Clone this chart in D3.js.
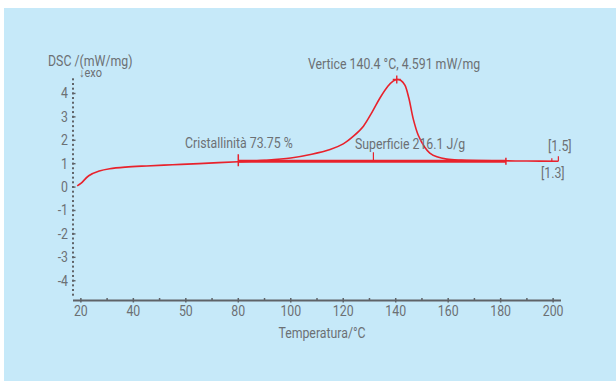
<!DOCTYPE html>
<html>
<head>
<meta charset="utf-8">
<script src="https://cdn.jsdelivr.net/npm/d3@7"></script>
<style>
  html, body { margin: 0; padding: 0; background: #fff; }
  svg text { font-family: Roboto, "Liberation Sans", sans-serif; fill: #6c7074; }
</style>
</head>
<body>
<svg id="chart" width="616" height="381"></svg>
<script>
// DSC curve (temperature °C, mW/mg)
const temps = [18.6, 20, 23, 27, 31, 37, 45, 55, 65, 80, 90, 100, 108, 115, 120, 124, 127.7, 131, 134, 137, 139, 140.4, 142, 143.5, 145, 146.7, 148.6, 151, 153, 155.7, 159.5, 165, 180, 190, 202];
const dsc = [0.05, 0.15, 0.48, 0.68, 0.78, 0.85, 0.9, 0.95, 1.0, 1.08, 1.14, 1.24, 1.4, 1.6, 1.84, 2.18, 2.6, 3.2, 3.8, 4.3, 4.52, 4.591, 4.55, 4.35, 3.8, 2.9, 2.21, 1.71, 1.45, 1.29, 1.19, 1.15, 1.12, 1.11, 1.1];

const xTicks = [20, 40, 60, 80, 100, 120, 140, 160, 180, 200];
const xTickLabels = ["20", "40", "50", "80", "100", "120", "140", "160", "180", "200"];
const yTicks = [-4, -3, -2, -1, 0, 1, 2, 3, 4];

const baseline = { from: 80, to: 182, v: 1.1 };
const peak = { t: 140.4, v: 4.591 };
const areaMark = 131.5;

const svg = d3.select("#chart");

// panel
svg.append("rect").attr("x", 4).attr("y", 8).attr("width", 612).attr("height", 373).attr("fill", "#c6e9f9");

const x = d3.scaleLinear().domain([17, 203]).range([73, 561]);
const y = d3.scaleLinear().domain([-4.75, 4.75]).range([298.2, 75.8]);

const red = "#e8222c";
const axisCol = "#5f6368";

// condensed-looking label helper
const label = (tx, ty, str, anchor = "start", size = 14) =>
  svg.append("text")
    .attr("transform", `translate(${tx},${ty}) scale(0.88,1)`)
    .attr("text-anchor", anchor)
    .attr("font-size", size)
    .text(str);

// y axis: dotted
const g = svg.append("g");
g.selectAll("rect.dot")
  .data(d3.range(-4.6, 4.7, 0.2))
  .enter()
  .append("rect")
  .attr("x", 72)
  .attr("y", (d) => y(d) - 1)
  .attr("width", 2)
  .attr("height", 2)
  .attr("fill", axisCol);
g.selectAll("rect.maj")
  .data(yTicks)
  .enter()
  .append("rect")
  .attr("x", 72)
  .attr("y", (d) => y(d) - 0.6)
  .attr("width", 3.5)
  .attr("height", 1.4)
  .attr("fill", axisCol);
yTicks.forEach((d) => label(68, y(d) + 5, d < 0 ? "-" + Math.abs(d) : String(d), "end"));

// x axis
g.append("line")
  .attr("x1", 73).attr("x2", 561)
  .attr("y1", 300.5).attr("y2", 300.5)
  .attr("stroke", axisCol).attr("stroke-width", 2);
g.selectAll("line.xt")
  .data(d3.range(20, 201, 10))
  .enter()
  .append("line")
  .attr("x1", (d) => x(d)).attr("x2", (d) => x(d))
  .attr("y1", 298).attr("y2", (d) => (d % 20 === 0 ? 302.5 : 300))
  .attr("stroke", axisCol).attr("stroke-width", 1.5);
xTicks.forEach((d, i) => label(x(d), 316, xTickLabels[i], "middle"));

label(322, 338, "Temperatura/°C", "middle");
label(48, 65.5, "DSC /(mW/mg)");
label(79, 77, "↓exo", "start", 12.5);

// curve
const line = d3.line().x((d) => x(d[0])).y((d) => y(d[1])).curve(d3.curveCatmullRom.alpha(0.5));
svg.append("path")
  .datum(temps.map((t, i) => [t, dsc[i]]))
  .attr("d", line)
  .attr("fill", "none")
  .attr("stroke", red)
  .attr("stroke-width", 1.6);

// baseline
svg.append("line")
  .attr("x1", x(baseline.from)).attr("x2", x(baseline.to))
  .attr("y1", y(baseline.v)).attr("y2", y(baseline.v))
  .attr("stroke", red).attr("stroke-width", 3);
svg.append("line")
  .attr("x1", x(baseline.from)).attr("x2", x(baseline.from))
  .attr("y1", y(baseline.v) - 7).attr("y2", y(baseline.v) + 5)
  .attr("stroke", red).attr("stroke-width", 1.5);
svg.append("line")
  .attr("x1", x(baseline.to)).attr("x2", x(baseline.to))
  .attr("y1", y(baseline.v) - 3.5).attr("y2", y(baseline.v) + 3.5)
  .attr("stroke", red).attr("stroke-width", 1.5);
svg.append("line")
  .attr("x1", x(areaMark)).attr("x2", x(areaMark))
  .attr("y1", y(baseline.v) - 9).attr("y2", y(baseline.v))
  .attr("stroke", red).attr("stroke-width", 1.2);

// peak marker
const px = x(peak.t), py = y(peak.v);
svg.append("path")
  .attr("d", `M${px - 4},${py}H${px + 4}M${px},${py - 4}V${py + 4}`)
  .attr("stroke", red).attr("stroke-width", 1.4);

// end markers
svg.append("line")
  .attr("x1", x(202)).attr("x2", x(202))
  .attr("y1", y(1.1)).attr("y2", y(1.1) - 5)
  .attr("stroke", red).attr("stroke-width", 1.2);
svg.append("line")
  .attr("x1", x(199.5)).attr("x2", x(199.5))
  .attr("y1", y(1.1)).attr("y2", y(1.1) - 3)
  .attr("stroke", red).attr("stroke-width", 1.2);

// annotations
label(308, 68.5, "Vertice 140.4 °C, 4.591 mW/mg");
label(185, 147.5, "Cristallinità 73.75 %");
label(355, 149, "Superficie 216.1 J/g");
label(548, 151, "[1.5]");
label(541, 178, "[1.3]");
</script>
</body>
</html>
